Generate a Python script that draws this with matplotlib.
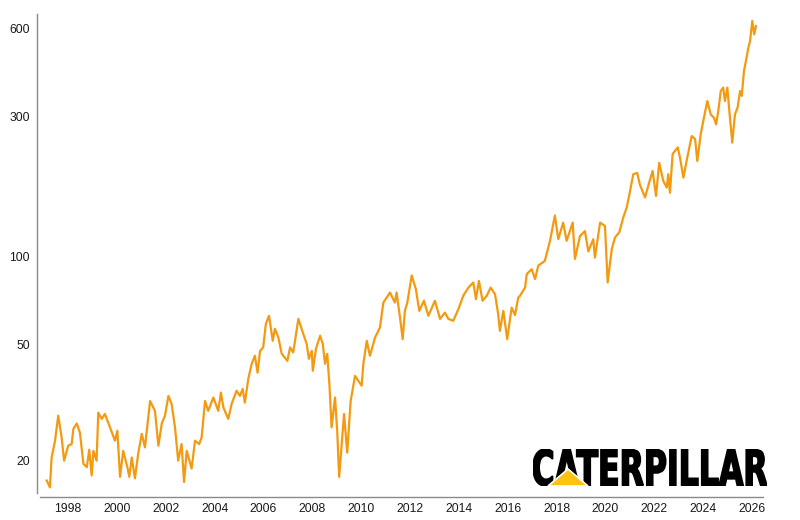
import matplotlib
matplotlib.use('Agg')
import matplotlib.pyplot as plt
from matplotlib.textpath import TextPath
from matplotlib.font_manager import FontProperties
from matplotlib.patches import PathPatch, Polygon
from matplotlib.ticker import NullLocator

years = [1997.13, 1997.26, 1997.33, 1997.47, 1997.60, 1997.74, 1997.84, 1998.01, 1998.15, 1998.22,
         1998.36, 1998.49, 1998.63, 1998.77, 1998.87, 1998.97, 1999.04, 1999.17, 1999.24, 1999.38,
         1999.51, 1999.72, 1999.92, 2000.02, 2000.13, 2000.26, 2000.43, 2000.51, 2000.61, 2000.74,
         2000.88, 2001.02, 2001.15, 2001.36, 2001.56, 2001.70, 2001.84, 2001.97, 2002.11, 2002.24,
         2002.38, 2002.51, 2002.65, 2002.75, 2002.86, 2003.06, 2003.20, 2003.37, 2003.47, 2003.61,
         2003.74, 2003.95, 2004.15, 2004.26, 2004.36, 2004.56, 2004.70, 2004.90, 2005.04, 2005.15,
         2005.24, 2005.38, 2005.52, 2005.65, 2005.76, 2005.86, 2005.99, 2006.10, 2006.23, 2006.38,
         2006.47, 2006.61, 2006.75, 2006.98, 2007.09, 2007.22, 2007.43, 2007.63, 2007.77, 2007.86,
         2007.98, 2008.02, 2008.15, 2008.32, 2008.43, 2008.52, 2008.61, 2008.70, 2008.79, 2008.93,
         2009.02, 2009.10, 2009.30, 2009.43, 2009.57, 2009.75, 2010.02, 2010.09, 2010.23, 2010.36,
         2010.57, 2010.77, 2010.91, 2011.18, 2011.38, 2011.45, 2011.59, 2011.70, 2011.79, 2011.89,
         2012.07, 2012.24, 2012.38, 2012.57, 2012.75, 2013.02, 2013.23, 2013.43, 2013.57, 2013.77,
         2013.98, 2014.18, 2014.39, 2014.59, 2014.70, 2014.82, 2014.97, 2015.14, 2015.30, 2015.48,
         2015.61, 2015.68, 2015.82, 2015.98, 2016.16, 2016.30, 2016.43, 2016.50, 2016.71, 2016.78,
         2016.98, 2017.12, 2017.25, 2017.52, 2017.73, 2017.93, 2018.07, 2018.27, 2018.41, 2018.66,
         2018.75, 2018.96, 2019.16, 2019.30, 2019.50, 2019.57, 2019.78, 2019.98, 2020.09, 2020.26,
         2020.39, 2020.57, 2020.73, 2020.87, 2020.98, 2021.14, 2021.30, 2021.41, 2021.62, 2021.79,
         2021.93, 2022.07, 2022.20, 2022.37, 2022.51, 2022.57, 2022.64, 2022.75, 2022.96, 2023.05,
         2023.19, 2023.35, 2023.53, 2023.67, 2023.76, 2023.90, 2024.03, 2024.17, 2024.31, 2024.44,
         2024.53, 2024.62, 2024.72, 2024.82, 2024.89, 2024.99, 2025.07, 2025.19, 2025.30, 2025.41,
         2025.51, 2025.58, 2025.67, 2025.75, 2025.85, 2025.92, 2026.01, 2026.09, 2026.16]

prices = [17.1, 16.2, 20.5, 23.4, 28.5, 24.0, 20.0, 22.5, 22.8, 25.7,
          26.8, 24.9, 19.5, 19.0, 21.8, 17.8, 21.6, 20.0, 29.2, 27.8,
          28.9, 26.0, 23.4, 25.3, 17.6, 21.6, 19.0, 17.6, 20.5, 17.4,
          21.3, 24.7, 22.2, 32.0, 29.6, 22.5, 26.8, 28.5, 33.3, 31.3,
          26.0, 20.0, 22.8, 16.9, 21.6, 18.8, 23.4, 22.8, 24.0, 32.0,
          29.6, 32.9, 29.6, 34.2, 30.4, 27.8, 31.3, 34.7, 33.3, 35.2,
          31.6, 38.1, 42.9, 45.7, 40.0, 47.5, 48.8, 58.8, 62.6, 51.4,
          56.5, 52.8, 46.4, 43.9, 48.8, 46.9, 61.1, 54.3, 50.2, 44.6,
          47.5, 40.6, 48.3, 53.5, 50.2, 42.9, 46.4, 36.6, 26.0, 32.9,
          25.3, 17.6, 28.9, 21.3, 32.0, 39.0, 36.1, 42.9, 51.4, 45.7,
          52.8, 57.1, 69.5, 75.2, 69.5, 75.2, 61.8, 52.1, 65.1, 69.5,
          86.0, 77.2, 65.1, 70.5, 62.6, 70.5, 61.1, 64.2, 61.1, 60.2,
          66.0, 73.3, 78.2, 81.4, 71.4, 82.4, 70.5, 73.3, 78.2, 74.2,
          63.4, 55.6, 65.1, 52.1, 66.8, 63.0, 72.3, 73.3, 78.2, 87.0,
          90.4, 83.6, 93.0, 96.5, 113.0, 138.0, 114.5, 130.5, 113.0, 130.5,
          98.0, 117.5, 122.0, 104.0, 114.5, 99.0, 130.5, 127.0, 81.4, 106.0,
          116.0, 121.0, 136.0, 147.0, 163.0, 191.0, 193.0, 176.0, 159.0, 179.0,
          196.0, 161.0, 209.0, 181.0, 172.0, 191.0, 165.0, 224.0, 236.0, 218.0,
          186.0, 218.0, 258.0, 252.0, 212.0, 262.0, 298.0, 340.0, 306.0, 298.0,
          283.0, 315.0, 368.0, 378.0, 340.0, 378.0, 315.0, 245.0, 306.0, 323.0,
          368.0, 354.0, 431.0, 466.0, 518.0, 546.0, 639.0, 575.0, 614.0]

x_ticks = list(range(1998, 2027, 2))
x_tick_labels = [str(t) for t in x_ticks]
y_ticks = [20, 50, 100, 300, 600]
y_tick_labels = ['20', '50', '100', '300', '600']
logo_text = 'CATERPILLAR'

plt.rcParams['font.family'] = ['Liberation Sans', 'DejaVu Sans']

W, H = 800, 520
fig = plt.figure(figsize=(8, 5.2), dpi=100)
ax = fig.add_axes([40 / W, 27 / H, 723 / W, 479 / H])

ax.plot(years, prices, color='#F39A10', lw=1.6, solid_joinstyle='round')
ax.set_yscale('log')
ax.set_xlim(1996.854, 2026.449)
ax.set_ylim(15.5, 675)

ax.set_yticks(y_ticks)
ax.set_yticklabels(y_tick_labels)
ax.yaxis.set_minor_locator(NullLocator())
ax.set_xticks(x_ticks)
ax.set_xticklabels(x_tick_labels)

for s in ['top', 'right']:
    ax.spines[s].set_visible(False)
for s in ['left', 'bottom']:
    ax.spines[s].set_color('#8a8a8a')
    ax.spines[s].set_linewidth(1.0)
ax.spines['left'].set_position(('outward', 2.2))
ax.spines['bottom'].set_position(('outward', 2.9))
ax.tick_params(axis='both', length=0, labelsize=8.7, labelcolor='#1a1a1a')
ax.tick_params(axis='y', pad=5)
ax.tick_params(axis='x', pad=4)

# Caterpillar logo
lx0, lx1, ly0, ly1 = 533, 767, 449, 486
logo_ax = fig.add_axes([lx0 / W, (H - ly1) / H, (lx1 - lx0) / W, (ly1 - ly0) / H])
logo_ax.axis('off')
tp = TextPath((0, 0), logo_text, size=10,
              prop=FontProperties(family='DejaVu Sans', weight='bold'))
ext = tp.get_extents()
logo_ax.add_patch(PathPatch(tp, fc='black', ec='black', lw=1.2))
logo_ax.set_xlim(ext.x0, ext.x1)
logo_ax.set_ylim(ext.y0, ext.y1)

tri = Polygon([[548 / W, 1 - 486 / H], [568 / W, 1 - 469 / H], [588 / W, 1 - 486 / H]],
              closed=True, transform=fig.transFigure, fc='#FFC20E', ec='white',
              lw=1.2, clip_on=False, zorder=5)
logo_ax.add_patch(tri)

fig.savefig('out.png', dpi=100, facecolor='white')
